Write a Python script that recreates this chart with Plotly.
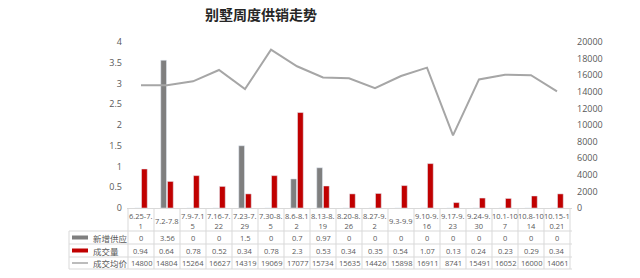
import plotly.graph_objects as go

categories = ["6.25-7.1", "7.2-7.8", "7.9-7.15", "7.16-7.22", "7.23-7.29", "7.30-8.5",
              "8.6-8.12", "8.13-8.19", "8.20-8.26", "8.27-9.2", "9.3-9.9", "9.10-9.16",
              "9.17-9.23", "9.24-9.30", "10.1-10.7", "10.8-10.14", "10.15-10.21"]
cat_labels = ["6.25-7.<br>1", "7.2-7.8", "7.9-7.1<br>5", "7.16-7.<br>22", "7.23-7.<br>29",
              "7.30-8.<br>5", "8.6-8.1<br>2", "8.13-8.<br>19", "8.20-8.<br>26", "8.27-9.<br>2",
              "9.3-9.9", "9.10-9.<br>16", "9.17-9.<br>23", "9.24-9.<br>30", "10.1-10<br>7",
              "10.8-10<br>14", "10.15-1<br>0.21"]
supply = [0, 3.56, 0, 0, 1.5, 0, 0.7, 0.97, 0, 0, 0, 0, 0, 0, 0, 0, 0]
volume = [0.94, 0.64, 0.78, 0.52, 0.34, 0.78, 2.3, 0.53, 0.34, 0.35, 0.54, 1.07, 0.13,
          0.24, 0.23, 0.29, 0.34]
price = [14800, 14804, 15264, 16627, 14319, 19069, 17077, 15734, 15635, 14426, 15898,
         16911, 8741, 15491, 16052, 16000, 14061]
series_names = ["新增供应", "成交量", "成交均价"]

W, H = 640, 278
L, R, T, B = 127, 68, 42, 70
PW, PH = W - L - R, H - T - B

def px(x):
    return (x - L) / PW

def py(y):
    return (T + PH - y) / PH

GRAY_BAR = "#7f7f7f"
RED = "#c00000"
LINE = "#a6a6a6"
TXT = "#595959"
GRID = "#d9d9d9"
FONT = "Open Sans, Noto Sans CJK SC"
CJK = "Noto Sans CJK SC"

fig = go.Figure()
fig.add_trace(go.Bar(x=categories, y=supply, name=series_names[0], marker_color=GRAY_BAR))
fig.add_trace(go.Bar(x=categories, y=volume, name=series_names[1], marker_color=RED))
fig.add_trace(go.Scatter(x=categories, y=price, name=series_names[2], mode="lines",
                         line=dict(color=LINE, width=2), yaxis="y2"))

shapes = []
annotations = []
n = len(categories)

# table horizontal lines
row_lines = [231, 244, 257, 269]
for yl in row_lines:
    shapes.append(dict(type="line", xref="paper", yref="paper", x0=px(69), x1=1,
                       y0=py(yl), y1=py(yl), line=dict(color=GRID, width=1)))
# vertical lines
for i in range(n + 1):
    shapes.append(dict(type="line", xref="x", yref="paper", x0=i - 0.5, x1=i - 0.5,
                       y0=0, y1=py(269), line=dict(color=GRID, width=1)))
shapes.append(dict(type="line", xref="paper", yref="paper", x0=px(69), x1=px(69),
                   y0=py(231), y1=py(269), line=dict(color=GRID, width=1)))

# category labels
for c, lab in zip(categories, cat_labels):
    annotations.append(dict(x=c, xref="x", y=py(220.5), yref="paper", text=lab,
                            showarrow=False, font=dict(size=7.5, color=TXT, family=FONT),
                            yanchor="middle", xanchor="center"))

row_y = [237.5, 250.5, 263]
rows = [supply, volume, price]
for ry, vals in zip(row_y, rows):
    for c, v in zip(categories, vals):
        annotations.append(dict(x=c, xref="x", y=py(ry), yref="paper", text=str(v),
                                showarrow=False, font=dict(size=7.5, color=TXT, family=FONT),
                                yanchor="middle", xanchor="center"))

# legend keys in table
shapes.append(dict(type="rect", xref="paper", yref="paper", x0=px(72), x1=px(88),
                   y0=py(239.5), y1=py(235.5), fillcolor=GRAY_BAR, line=dict(width=0)))
shapes.append(dict(type="rect", xref="paper", yref="paper", x0=px(72), x1=px(88),
                   y0=py(252.5), y1=py(248.5), fillcolor=RED, line=dict(width=0)))
shapes.append(dict(type="line", xref="paper", yref="paper", x0=px(72), x1=px(88),
                   y0=py(263), y1=py(263), line=dict(color=LINE, width=1.5)))
for ry, nm in zip(row_y, series_names):
    annotations.append(dict(x=px(91), xref="paper", y=py(ry), yref="paper", text=nm,
                            showarrow=False, font=dict(size=8.5, color=TXT, family=CJK),
                            yanchor="middle", xanchor="left"))

fig.update_layout(
    width=W, height=H,
    margin=dict(l=L, r=R, t=T, b=B),
    paper_bgcolor="white", plot_bgcolor="white",
    showlegend=False,
    barmode="group", bargap=0.48, bargroupgap=0.15,
    title=dict(text="<b>别墅周度供销走势</b>", x=261 / W, xref="container", xanchor="center",
               y=1 - 15 / H, yref="container", yanchor="middle",
               font=dict(size=14, color="#262626", family=CJK)),
    xaxis=dict(type="category", showticklabels=False, showgrid=False, zeroline=False,
               showline=True, linecolor=GRID, linewidth=1, ticks=""),
    yaxis=dict(range=[0, 4], dtick=0.5, showgrid=False, zeroline=False, showline=False,
               tickfont=dict(size=9, color=TXT, family=FONT), ticks="",
               ticklabelstandoff=4),
    yaxis2=dict(range=[0, 20000], dtick=2000, tickformat="d", overlaying="y", side="right",
                showgrid=False, zeroline=False, showline=False,
                tickfont=dict(size=9, color=TXT, family=FONT), ticks="", ticklabelstandoff=4),
    shapes=shapes,
    annotations=annotations,
)

fig.write_html("out.html")
